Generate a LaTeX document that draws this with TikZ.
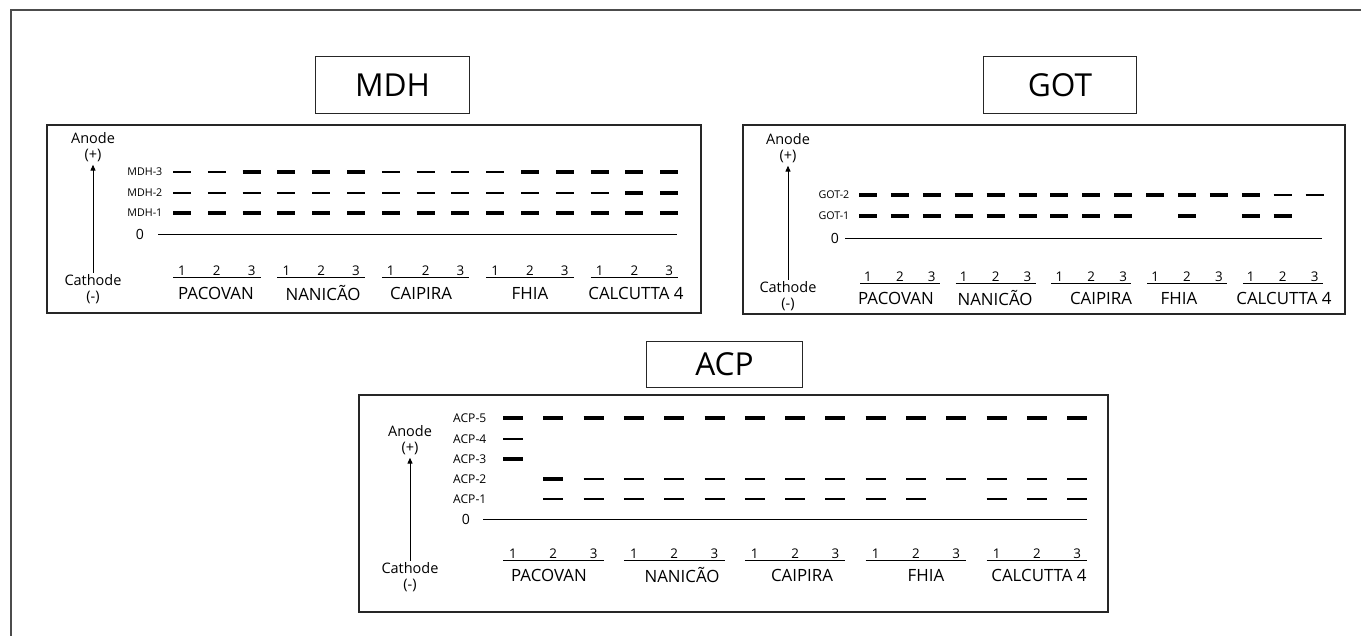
\documentclass[tikz,border=0pt]{standalone}
\usepackage{fontspec}
\setmainfont{Open Sans}
\usetikzlibrary{arrows.meta}

\begin{document}
\begin{tikzpicture}[
  x=0.025cm, y=-0.025cm,
  font=\fontsize{10.3}{11.4}\selectfont,
  % ---- Frames and boxes ----
  frame/.style={draw=black!70, line width=1pt},
  panel/.style={draw=black!85, line width=0.9pt},
  title/.style={draw=black!85, line width=0.7pt, inner sep=0pt,
                minimum width=3.83cm, minimum height=1.4cm,
                font=\fontsize{22.5}{25}\selectfont},
  % ---- Texts ----
  pole/.style={align=center, inner sep=1pt},
  rowlab/.style={anchor=east, inner sep=1pt, font=\fontsize{7.6}{8.5}\selectfont},
  acplab/.style={rowlab, font=\fontsize{8.6}{9.5}\selectfont},
  zerolab/.style={inner sep=1pt, font=\fontsize{10}{11}\selectfont},
  lane/.style={anchor=south, inner sep=0.6pt, font=\fontsize{9.5}{10}\selectfont},
  group/.style={inner sep=1pt, font=\fontsize{12}{13}\selectfont},
  % ---- Lines ----
  axis/.style={-{Triangle[length=4.2pt,width=3.6pt]}, line width=0.65pt, shorten >=1pt},
  zline/.style={line width=0.65pt},
  uline/.style={line width=0.6pt},
  band/.style={line width=1.9pt},
  bandthick/.style={line width=2.6pt}
]
\useasboundingbox (0,0) rectangle (1361,636);

% ===== Outer frame (open at right and bottom) =====
\draw[frame] (11,636) -- (11,10) -- (1361,10);

% ===== MDH =====
\def\MX{182}
\def\MS{34.8}
\node[title] (mdhtitle) at (392.5,85) {MDH};
\draw[panel] (47,125) rectangle (701,313);

\node[pole] (mdhano)  at (93,147) {Anode\\(+)};
\node[pole] (mdhcath) at (93,289) {Cathode\\(-)};
\draw[axis] (mdhcath) -- (mdhano);

\node[rowlab] (mdh3) at (164,172) {MDH-3};
\node[rowlab] (mdh2) at (164,193) {MDH-2};
\node[rowlab] (mdh1) at (164,213) {MDH-1};
\node[zerolab] (mdhzero) at (140,234) {0};
\coordinate (mdhz0) at (158,234);
\coordinate (mdhz1) at (677,234);
\draw[zline] (mdhz0) -- (mdhz1);

% bands
\foreach \yy in {172,193,213}
  \foreach \i in {0,...,14}
    \draw[band] ({\MX+\MS*\i-9},\yy) -- ++(18,0);
\foreach \i in {2,3,4,5,10,11,12,13,14}
  \draw[bandthick] ({\MX+\MS*\i-9},172) -- ++(18,0);
\foreach \i in {13,14}
  \draw[bandthick] ({\MX+\MS*\i-9},193) -- ++(18,0);
\foreach \i in {0,...,14}
  \draw[bandthick] ({\MX+\MS*\i-9},213) -- ++(18,0);

% lanes
\foreach \g in {0,...,4}{
  \foreach \k in {1,2,3}
    \node[lane] (mdhl\g\k) at ({\MX+\MS*(3*\g+\k-1)},277) {\k};
  \draw[uline] ({\MX+\MS*3*\g-9},277) -- ({\MX+\MS*(3*\g+2)+9},277);
}
\node[group] (mdhpac) at (216,293) {PACOVAN};
\node[group] (mdhnan) at (323,293) {NANICÃO};
\node[group] (mdhcai) at (421,293) {CAIPIRA};
\node[group] (mdhfhi) at (530,293) {FHIA};
\node[group] (mdhcal) at (636,293) {CALCUTTA 4};

% ===== GOT =====
\def\GX{868}
\def\GS{31.9}
\node[title] (gottitle) at (1060,85) {GOT};
\draw[panel] (743,125) rectangle (1345,314);

\node[pole] (gotano)  at (788,148) {Anode\\(+)};
\node[pole] (gotcath) at (788,296) {Cathode\\(-)};
\draw[axis] (gotcath) -- (gotano);

\node[rowlab] (got2) at (851,195) {GOT-2};
\node[rowlab] (got1) at (851,216) {GOT-1};
\node[zerolab] (gotzero) at (835,238) {0};
\coordinate (gotz0) at (845,238);
\coordinate (gotz1) at (1322,238);
\draw[zline] (gotz0) -- (gotz1);

% bands
\foreach \i in {0,...,12}
  \draw[bandthick] ({\GX+\GS*\i-9},195) -- ++(18,0);
\foreach \i in {13,14}
  \draw[band] ({\GX+\GS*\i-9},195) -- ++(18,0);
\foreach \i in {0,...,8,10,12,13}
  \draw[bandthick] ({\GX+\GS*\i-9},216) -- ++(18,0);

% lanes
\foreach \g in {0,...,4}{
  \foreach \k in {1,2,3}
    \node[lane] (gotl\g\k) at ({\GX+\GS*(3*\g+\k-1)},283) {\k};
  \draw[uline] ({\GX+\GS*3*\g-8},283) -- ({\GX+\GS*(3*\g+2)+8},283);
}
\node[group] (gotpac) at (896,298) {PACOVAN};
\node[group] (gotnan) at (995,298) {NANICÃO};
\node[group] (gotcai) at (1101,298) {CAIPIRA};
\node[group] (gotfhi) at (1179,298) {FHIA};
\node[group] (gotcal) at (1284,298) {CALCUTTA 4};

% ===== ACP =====
\def\AX{513}
\def\AS{40.3}
\node[title, minimum width=3.88cm, minimum height=1.13cm] (acptitle) at (724.5,364.5) {ACP};
\draw[panel] (359,395) rectangle (1108,612);

\node[pole] (acpano)  at (410,440) {Anode\\(+)};
\node[pole] (acpcath) at (410,577) {Cathode\\(-)};
\draw[axis] (acpcath) -- (acpano);

\node[acplab] (acp5) at (488,418) {ACP-5};
\node[acplab] (acp4) at (488,439) {ACP-4};
\node[acplab] (acp3) at (488,459) {ACP-3};
\node[acplab] (acp2) at (488,479) {ACP-2};
\node[acplab] (acp1) at (488,499) {ACP-1};
\node[zerolab] (acpzero) at (466,519) {0};
\coordinate (acpz0) at (483,519);
\coordinate (acpz1) at (1087,519);
\draw[zline] (acpz0) -- (acpz1);

% bands
\foreach \i in {0,...,14}
  \draw[bandthick] ({\AX+\AS*\i-10},418) -- ++(20,0);
\draw[band] ({\AX-10},439) -- ++(20,0);
\draw[bandthick] ({\AX-10},459) -- ++(20,0);
\draw[bandthick] ({\AX+\AS-10},479) -- ++(20,0);
\foreach \i in {2,...,14}
  \draw[band] ({\AX+\AS*\i-10},479) -- ++(20,0);
\foreach \i in {1,...,10,12,13,14}
  \draw[band] ({\AX+\AS*\i-10},499) -- ++(20,0);

% lanes
\foreach \g in {0,...,4}{
  \foreach \k in {1,2,3}
    \node[lane] (acpl\g\k) at ({\AX+\AS*(3*\g+\k-1)},560) {\k};
  \draw[uline] ({\AX+\AS*3*\g-10},560) -- ({\AX+\AS*(3*\g+2)+10},560);
}
\node[group] (acppac) at (549,575) {PACOVAN};
\node[group] (acpnan) at (682,575) {NANICÃO};
\node[group] (acpcai) at (802,575) {CAIPIRA};
\node[group] (acpfhi) at (926,575) {FHIA};
\node[group] (acpcal) at (1039,575) {CALCUTTA 4};

\end{tikzpicture}
\end{document}
